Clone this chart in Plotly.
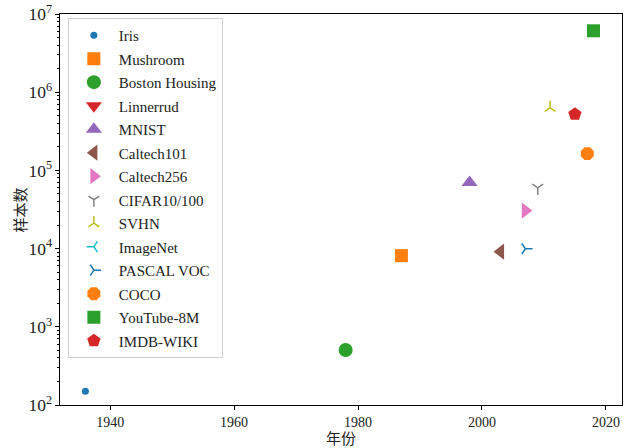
import plotly.graph_objects as go

# Dataset name, publication year and number of samples
names = ["Iris", "Mushroom", "Boston Housing", "Linnerrud", "MNIST", "Caltech101",
         "Caltech256", "CIFAR10/100", "SVHN", "ImageNet", "PASCAL VOC", "COCO",
         "YouTube-8M", "IMDB-WIKI"]
years = [1936, 1987, 1978, 1998, 1998, 2003, 2007, 2009, 2011, 2009, 2007, 2017, 2018, 2015]
samples = [150, 8124, 506, 20, 70000, 9146, 30607, 60000, 630420, 14197122, 9963,
           163957, 6100000, 523051]

tab10 = ["#1f77b4", "#ff7f0e", "#2ca02c", "#d62728", "#9467bd",
         "#8c564b", "#e377c2", "#7f7f7f", "#bcbd22", "#17becf"]
symbols = ["circle", "square", "circle", "triangle-down", "triangle-up", "triangle-left",
           "triangle-right", "y-down", "y-up", "y-left", "y-right", "octagon",
           "square", "pentagon"]
sizes = [7, 13, 14, 14, 14, 14, 14, 9, 9, 9, 9, 14, 13, 14]
line_symbols = {"y-down", "y-up", "y-left", "y-right"}

fig = go.Figure()
for i, (n, yr, s) in enumerate(zip(names, years, samples)):
    color = tab10[i % 10]
    sym = symbols[i]
    if sym in line_symbols:
        marker = dict(symbol=sym, size=sizes[i], color=color,
                      line=dict(color=color, width=1.5))
    else:
        marker = dict(symbol=sym, size=sizes[i], color=color, line=dict(width=0))
    fig.add_trace(go.Scatter(x=[yr], y=[s], mode="markers", name=n,
                             marker=marker, legendgroup=n))

font_serif = "Liberation Serif"
cjk = "Noto Sans CJK SC"
fig.update_layout(
    width=624, height=448,
    margin=dict(l=60, r=2, t=14, b=43),
    plot_bgcolor="white", paper_bgcolor="white",
    font=dict(family=font_serif, size=14, color="#222"),
    showlegend=True,
    legend=dict(x=0.014, y=0.99, xanchor="left", yanchor="top",
                bgcolor="rgba(255,255,255,0.8)", bordercolor="#d0d0d0", borderwidth=1,
                font=dict(family=font_serif, size=15, color="#222"),
                tracegroupgap=1, itemwidth=40, itemsizing="trace"),
    xaxis=dict(range=[1931.9, 2022.6], tickmode="array",
               tickvals=[1940, 1960, 1980, 2000, 2020],
               showgrid=False, zeroline=False, showline=True, linecolor="black",
               linewidth=1, mirror=True, ticks="outside", ticklen=4, tickcolor="black",
               tickfont=dict(family=font_serif, size=14),
               title=dict(text="年份", font=dict(family=cjk, size=15), standoff=3)),
    yaxis=dict(type="log", range=[2, 7], dtick=1, exponentformat="power",
               showgrid=False, zeroline=False, showline=True, linecolor="black",
               linewidth=1, mirror=True, ticks="outside", ticklen=4, tickcolor="black",
               tickfont=dict(family=font_serif, size=14),
               minor=dict(ticks="outside", ticklen=2, tickcolor="black", dtick="D1",
                          showgrid=False)),
    annotations=[dict(text="样本数", textangle=-90, xref="paper", yref="paper",
                      x=-0.0712, y=0.5, xanchor="center", yanchor="middle",
                      showarrow=False, font=dict(family=cjk, size=15, color="#222"))],
)

fig.write_html("out.html")
